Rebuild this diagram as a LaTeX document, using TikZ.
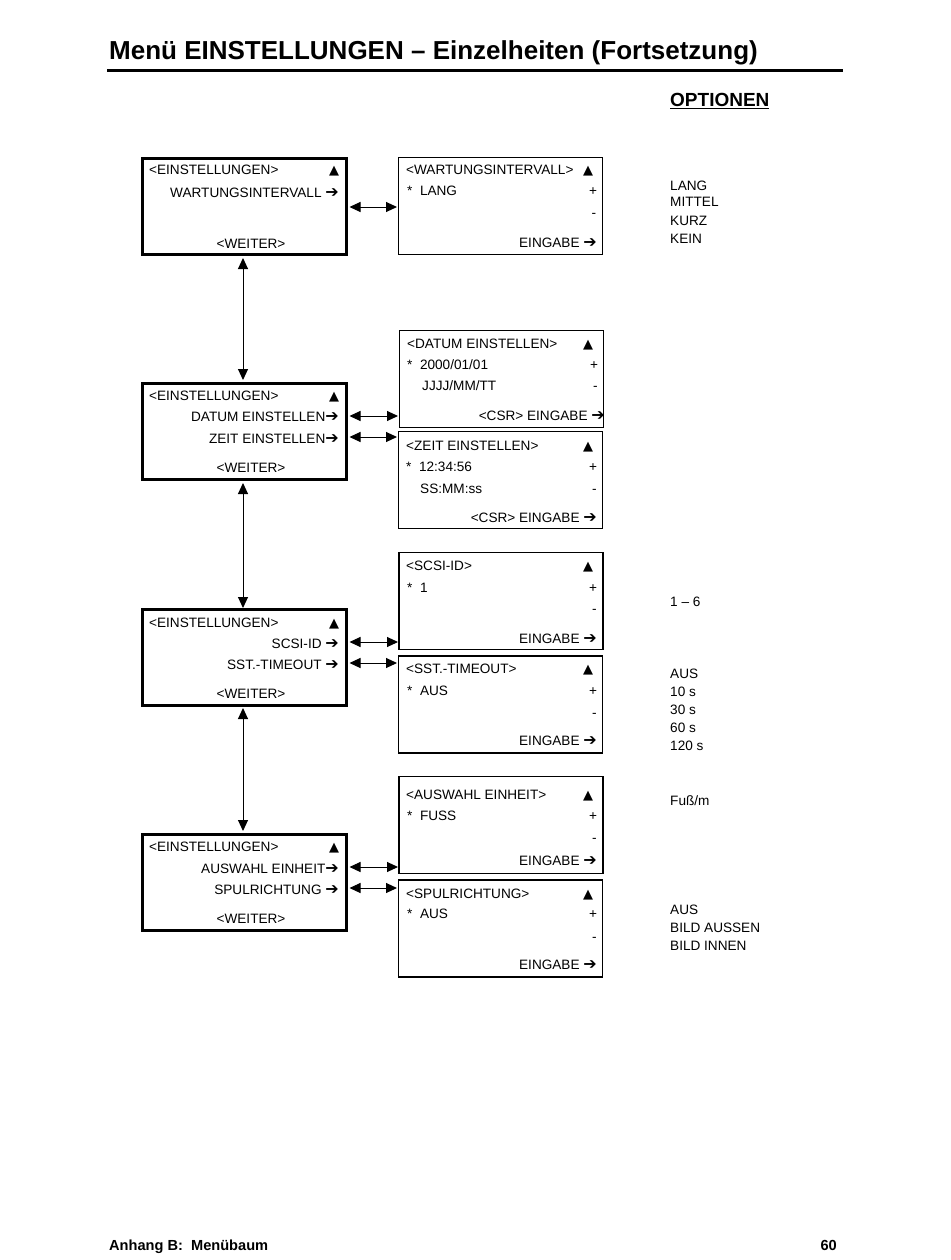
\documentclass[tikz,border=0pt]{standalone}
\usepackage{fontspec}
\setmainfont{Liberation Sans}
\newfontfamily\dv{DejaVu Sans}
\usetikzlibrary{arrows.meta}
\newcommand\ra{{\dv\fontsize{16}{16}\selectfont ➔}}
\newcommand\up{{\dv\fontsize{13}{14}\selectfont ▲}}
\begin{document}
\begin{tikzpicture}[x=1pt,y=-1pt,
  txt/.style={inner sep=0pt,font=\fontsize{13.6}{16}\selectfont},
  lbox/.style={draw,line width=3pt,minimum width=204pt,minimum height=96pt,inner sep=0pt},
  rbox/.style={draw,line width=1.3pt,minimum width=204pt,minimum height=97pt,inner sep=0pt},
  dbl/.style={{Triangle[length=11pt,width=10pt]}-{Triangle[length=11pt,width=10pt]},line width=1pt},
  lw/.style={txt,anchor=base west},
  re/.style={txt,anchor=base east},
  ce/.style={txt,anchor=base}]
\useasboundingbox (0,0) rectangle (950,1260);
% title
\node[anchor=base west,inner sep=0pt,font=\fontsize{26}{30}\selectfont\bfseries] (title) at (109,60) {Menü EINSTELLUNGEN – Einzelheiten (Fortsetzung)};
\draw[line width=3pt] (107,70.5) -- (843,70.5);
\node[anchor=base west,inner sep=0pt,font=\fontsize{19}{22}\selectfont\bfseries] (opt) at (670,107) {\underline{OPTIONEN}};
% footer
\node[anchor=base west,inner sep=0pt,font=\fontsize{14.6}{17}\selectfont\bfseries] (foot) at (109,1250) {Anhang B:\ \ Menübaum};
\node[anchor=base east,inner sep=0pt,font=\fontsize{14.6}{17}\selectfont\bfseries] (page) at (837,1250) {60};

% left boxes
\node[lbox] (L1) at (244,206.5) {};
\node[lbox] (L2) at (244,431.5) {};
\node[lbox] (L3) at (244,657.5) {};
\node[lbox] (L4) at (244,882.5) {};
% right boxes
\node[rbox] (R1) at (500.5,206) {};
\node[rbox] (R2) at (501.5,379) {};
\node[rbox] (R3) at (500.5,480) {};
\node[rbox] (R4) at (501,601) {};
\node[rbox] (R5) at (500.5,704.5) {};
\node[rbox] (R6) at (501,825) {};
\node[rbox] (R7) at (500.5,928.5) {};

% left box texts
\node[lw] (l1a) at (149,175) {<EINSTELLUNGEN>};
\node[ce] (l1t) at (334,175) {\up};
\node[re] (l1b) at (339,197) {WARTUNGSINTERVALL \ra};
\node[ce] (l1c) at (251,248) {<WEITER>};

\node[lw] (l2a) at (149,400) {<EINSTELLUNGEN>};
\node[ce] (l2t) at (334,400) {\up};
\node[re] (l2b) at (339,421) {DATUM EINSTELLEN\ra};
\node[re] (l2c) at (339,443) {ZEIT EINSTELLEN\ra};
\node[ce] (l2d) at (251,472) {<WEITER>};

\node[lw] (l3a) at (149,627) {<EINSTELLUNGEN>};
\node[ce] (l3t) at (334,627) {\up};
\node[re] (l3b) at (339,648) {SCSI-ID \ra};
\node[re] (l3c) at (339,669) {SST.-TIMEOUT \ra};
\node[ce] (l3d) at (251,698) {<WEITER>};

\node[lw] (l4a) at (149,851) {<EINSTELLUNGEN>};
\node[ce] (l4t) at (334,851) {\up};
\node[re] (l4b) at (339,873) {AUSWAHL EINHEIT\ra};
\node[re] (l4c) at (339,894) {SPULRICHTUNG \ra};
\node[ce] (l4d) at (251,923) {<WEITER>};

% right box texts
\node[lw] (r1a) at (406,175) {<WARTUNGSINTERVALL>};
\node[ce] (r1t) at (588,175) {\up};
\node[lw] (r1b) at (407,196) {*\ \ LANG};
\node[ce] (r1p) at (593,196) {+};
\node[ce] (r1m) at (594,218) {-};
\node[re] (r1e) at (597,247) {EINGABE \ra};

\node[lw] (r2a) at (407,348) {<DATUM EINSTELLEN>};
\node[ce] (r2t) at (588,348) {\up};
\node[lw] (r2b) at (407,369) {*\ \ 2000/01/01};
\node[lw] (r2c) at (422,390) {JJJJ/MM/TT};
\node[ce] (r2p) at (594,369) {+};
\node[ce] (r2m) at (595.5,390) {-};
\node[re] (r2e) at (605,420) {<CSR> EINGABE \ra};

\node[lw] (r3a) at (406,450) {<ZEIT EINSTELLEN>};
\node[ce] (r3t) at (588,450) {\up};
\node[lw] (r3b) at (406,471) {*\ \ 12:34:56};
\node[lw] (r3c) at (420,493) {SS:MM:ss};
\node[ce] (r3p) at (593,471) {+};
\node[ce] (r3m) at (594.5,493) {-};
\node[re] (r3e) at (597,522) {<CSR> EINGABE \ra};

\node[lw] (r4a) at (406,570) {<SCSI-ID>};
\node[ce] (r4t) at (588,570) {\up};
\node[lw] (r4b) at (407,592) {*\ \ 1};
\node[ce] (r4p) at (593,592) {+};
\node[ce] (r4m) at (594.5,613) {-};
\node[re] (r4e) at (597,643) {EINGABE \ra};

\node[lw] (r5a) at (406,673) {<SST.-TIMEOUT>};
\node[ce] (r5t) at (588,673) {\up};
\node[lw] (r5b) at (407,695) {*\ \ AUS};
\node[ce] (r5p) at (593,695) {+};
\node[ce] (r5m) at (594.5,717) {-};
\node[re] (r5e) at (597,745) {EINGABE \ra};

\node[lw] (r6a) at (406,799) {<AUSWAHL EINHEIT>};
\node[ce] (r6t) at (588,799) {\up};
\node[lw] (r6b) at (407,820) {*\ \ FUSS};
\node[ce] (r6p) at (593,820) {+};
\node[ce] (r6m) at (594.5,842) {-};
\node[re] (r6e) at (597,865) {EINGABE \ra};

\node[lw] (r7a) at (406,898) {<SPULRICHTUNG>};
\node[ce] (r7t) at (588,898) {\up};
\node[lw] (r7b) at (407,918) {*\ \ AUS};
\node[ce] (r7p) at (593,918) {+};
\node[ce] (r7m) at (594.5,941) {-};
\node[re] (r7e) at (597,969) {EINGABE \ra};

% options
\node[lw] (o1) at (670,190) {LANG};
\node[lw] (o2) at (670,207) {MITTEL};
\node[lw] (o3) at (670,225) {KURZ};
\node[lw] (o4) at (670,243) {KEIN};
\node[lw] (o5) at (670,606) {1 – 6};
\node[lw] (o6) at (670,678) {AUS};
\node[lw] (o7) at (670,696) {10 s};
\node[lw] (o8) at (670,714) {30 s};
\node[lw] (o9) at (670,732) {60 s};
\node[lw] (o10) at (670,750) {120 s};
\node[lw] (o11) at (670,805) {Fuß/m};
\node[lw] (o12) at (670,914) {AUS};
\node[lw] (o13) at (670,932) {BILD AUSSEN};
\node[lw] (o14) at (670,950) {BILD INNEN};

% vertical connectors
\coordinate (v1a) at (243,258); \coordinate (v1b) at (243,380);
\coordinate (v2a) at (243,483); \coordinate (v2b) at (243,608);
\coordinate (v3a) at (243,708); \coordinate (v3b) at (243,831);
\draw[dbl] (v1a) -- (v1b);
\draw[dbl] (v2a) -- (v2b);
\draw[dbl] (v3a) -- (v3b);
% horizontal connectors
\coordinate (h1a) at (349.5,207); \coordinate (h1b) at (397,207);
\coordinate (h2a) at (349.5,416); \coordinate (h2b) at (398,416);
\coordinate (h3a) at (349.5,437); \coordinate (h3b) at (397,437);
\coordinate (h4a) at (349.5,642); \coordinate (h4b) at (398,642);
\coordinate (h5a) at (349.5,663); \coordinate (h5b) at (397,663);
\coordinate (h6a) at (349.5,867); \coordinate (h6b) at (398,867);
\coordinate (h7a) at (349.5,888); \coordinate (h7b) at (397,888);
\foreach \i in {1,...,7} {\draw[dbl] (h\i a) -- (h\i b);}
\end{tikzpicture}
\end{document}
